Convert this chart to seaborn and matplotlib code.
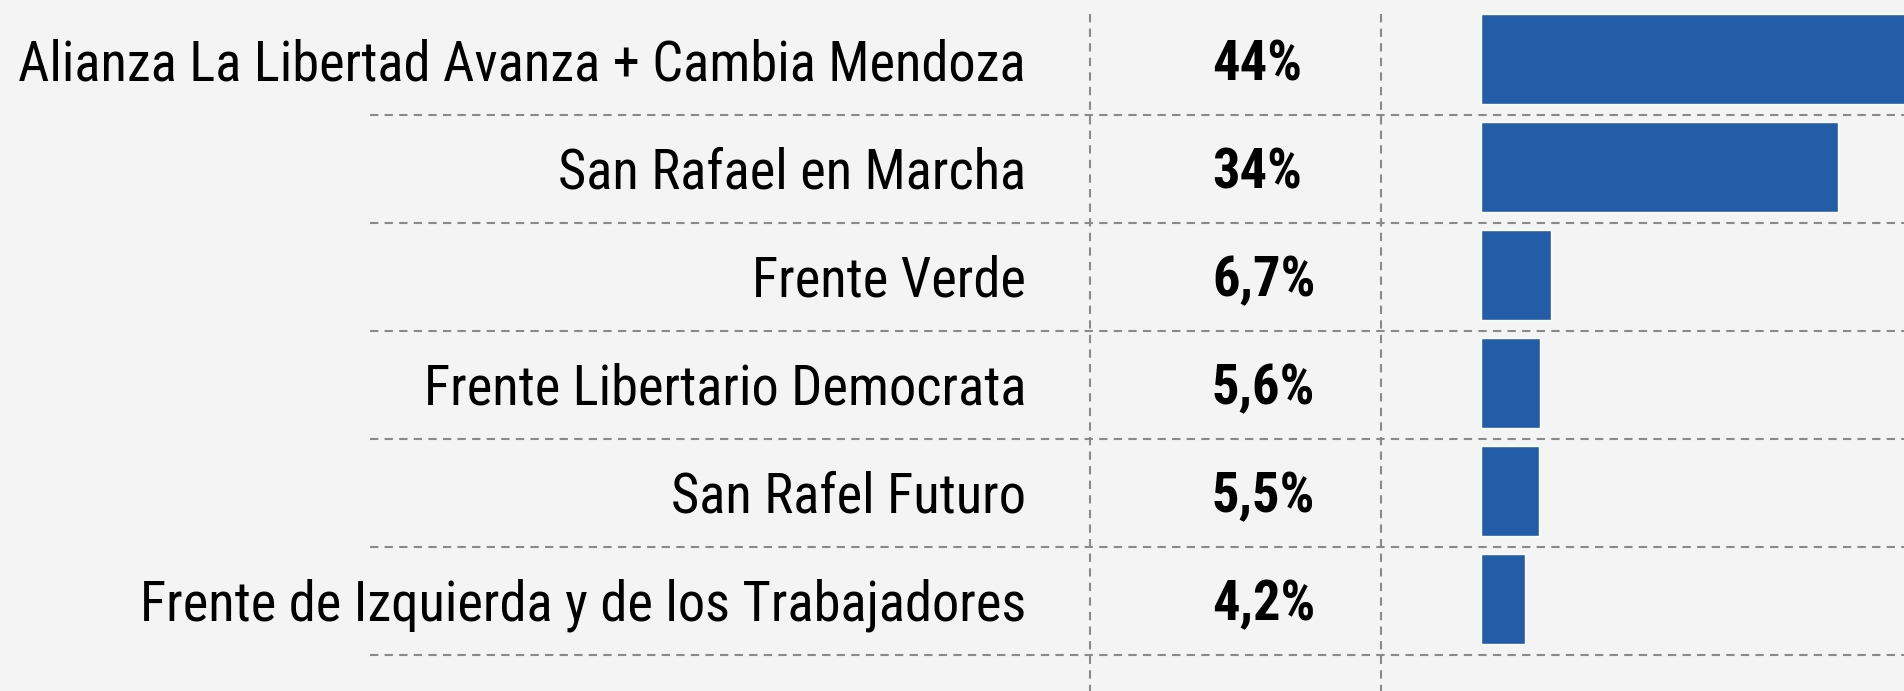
import matplotlib
matplotlib.use("Agg")
import matplotlib.pyplot as plt
import matplotlib.transforms as mtransforms
from matplotlib import font_manager
import seaborn as sns

parties = [
    "Alianza La Libertad Avanza + Cambia Mendoza",
    "San Rafael en Marcha",
    "Frente Verde",
    "Frente Libertario Democrata",
    "San Rafel Futuro",
    "Frente de Izquierda y de los Trabajadores",
]
votes = [44, 34, 6.7, 5.6, 5.5, 4.2]
vote_labels = ["44%", "34%", "6,7%", "5,6%", "5,5%", "4,2%"]

BG = "#f4f4f4"
BAR = "#245da7"
GRID = "#8a8a8a"

sns.set_theme(style="white")
names = {f.name for f in font_manager.fontManager.ttflist}
font = "DejaVu Sans"
for cand in ["Liberation Sans Narrow", "DejaVu Sans Condensed", "Roboto Condensed", "Roboto"]:
    if cand in names:
        font = cand
        break
plt.rcParams["font.family"] = [font, "DejaVu Sans"]

W, H = 1904, 691
fig = plt.figure(figsize=(W / 100, H / 100), dpi=100, facecolor=BG)
x0 = 1481 / W
ax = fig.add_axes([x0, 0, 1 - x0, 1])
ax.set_facecolor(BG)

sns.barplot(x=votes, y=parties, orient="h", color=BAR, width=0.83,
            saturation=1, ax=ax)
ax.set_xlim(0, 423 / 10.5)
ax.set_ylim(5 + 92 / 108, -59 / 108)
ax.set_axis_off()

tr = mtransforms.blended_transform_factory(fig.transFigure, ax.transData)

# fit label font size to the reference width of the longest label
t = fig.text(0, 0, parties[0], fontsize=30)
fig.canvas.draw()
w = t.get_window_extent().width
t.remove()
fs = 30 * 1009 / w

for i, (p, v) in enumerate(zip(parties, vote_labels)):
    ax.text(1026 / W, i + 0.2, p, transform=tr, ha="right", va="baseline",
            fontsize=fs, color="black", clip_on=False)
    ax.text(1212 / W, i + 0.2, v, transform=tr, ha="left", va="baseline",
            fontsize=fs, fontweight="bold", color="black", clip_on=False)
    ax.plot([370 / W, 1], [i + 0.52, i + 0.52], transform=tr, color=GRID,
            lw=1.5, ls=(0, (4, 3)), clip_on=False)

top = -59 / 108 + 14 / 108
for xv in [1090 / W, 1381 / W]:
    ax.plot([xv, xv], [top, 5 + 92 / 108], transform=tr, color=GRID,
            lw=1.5, ls=(0, (4, 3)), clip_on=False)

fig.savefig("out.png", dpi=100, facecolor=BG)
